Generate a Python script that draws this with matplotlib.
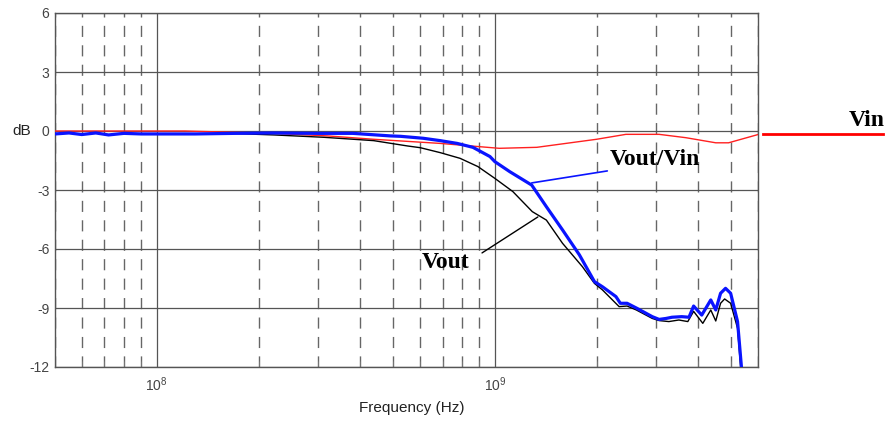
import numpy as np
import matplotlib
matplotlib.use("Agg")
import matplotlib.pyplot as plt
from matplotlib.ticker import LogLocator, NullFormatter, FixedLocator
from matplotlib.lines import Line2D

plt.rcParams["mathtext.fontset"] = "custom"
plt.rcParams["mathtext.rm"] = "Liberation Sans"
plt.rcParams["mathtext.it"] = "Liberation Sans:italic"
plt.rcParams["mathtext.bf"] = "Liberation Sans:bold"
plt.rcParams["axes.unicode_minus"] = False

# ---- data (frequency in Hz, magnitude in dB) ----
vin_f = [5e7, 1.21e8, 2.22e8, 3.2e8, 4.37e8, 6.88e8, 1.03e9, 1.33e9, 2.0e9, 2.44e9,
         3.06e9, 3.67e9, 4.5e9, 4.91e9, 6.0e9]
vin_db = [0.0, 0.0, -0.12, -0.25, -0.42, -0.63, -0.88, -0.83, -0.42, -0.17,
          -0.17, -0.34, -0.6, -0.6, -0.18]

vov_f = [5e7, 5.5e7, 6e7, 6.6e7, 7.2e7, 8e7, 9e7, 1.0e8, 1.3e8, 1.7e8, 2.2e8, 3.0e8,
         3.8e8, 4.91e8, 5.26e8, 6.14e8, 6.89e8, 7.73e8, 8.61e8, 9.67e8, 1.0e9,
         1.107e9, 1.285e9, 1.42e9, 1.585e9, 1.778e9, 1.97e9, 2.08e9, 2.28e9, 2.35e9,
         2.46e9, 2.62e9, 2.92e9, 3.06e9, 3.21e9, 3.34e9, 3.57e9, 3.75e9, 3.87e9,
         4.09e9, 4.35e9, 4.50e9, 4.65e9, 4.81e9, 4.98e9, 5.22e9, 5.36e9]
vov_db = [-0.15, -0.1, -0.18, -0.1, -0.2, -0.12, -0.15, -0.15, -0.15, -0.12, -0.1, -0.12,
          -0.12, -0.25, -0.27, -0.37, -0.49, -0.63, -0.83, -1.3, -1.56,
          -2.07, -2.75, -3.85, -5.03, -6.3, -7.66, -7.92, -8.42, -8.76,
          -8.76, -9.0, -9.44, -9.58, -9.53, -9.47, -9.44, -9.47, -8.9,
          -9.36, -8.59, -9.1, -8.25, -8.0, -8.25, -9.69, -12.0]

vout_f = [5e7, 5.5e7, 6e7, 6.6e7, 7.2e7, 8e7, 9e7, 1.0e8, 1.3e8, 1.7e8, 2.22e8, 3.12e8,
          4.38e8, 5.51e8, 6.02e8, 6.89e8, 7.89e8, 8.91e8, 1.0e9, 1.13e9, 1.29e9,
          1.42e9, 1.585e9, 1.815e9, 1.97e9, 2.08e9, 2.33e9, 2.46e9, 2.62e9, 2.92e9,
          3.06e9, 3.27e9, 3.50e9, 3.72e9, 3.87e9, 4.12e9, 4.35e9, 4.50e9, 4.65e9,
          4.78e9, 4.98e9, 5.22e9, 5.33e9]
vout_db = [-0.15, -0.1, -0.18, -0.1, -0.2, -0.12, -0.15, -0.15, -0.15, -0.13, -0.2, -0.32,
           -0.49, -0.76, -0.85, -1.1, -1.39, -1.81, -2.41, -3.08, -4.1,
           -4.53, -5.71, -6.9, -7.75, -8.08, -8.93, -8.9, -9.1, -9.53,
           -9.64, -9.69, -9.61, -9.69, -9.17, -9.78, -9.1, -9.66, -8.76,
           -8.54, -8.76, -10.03, -12.0]

yticks = [6, 3, 0, -3, -6, -9, -12]

sans = ["Liberation Sans", "DejaVu Sans"]
serif = ["Liberation Serif", "DejaVu Serif"]

fig = plt.figure(figsize=(8.91, 4.24), dpi=100)
ax = fig.add_axes([55/891, (424-367)/424, 703/891, 354/424])

ax.set_xscale("log")
ax.set_xlim(5e7, 6e9)
ax.set_ylim(-12, 6)

# grid
ax.yaxis.set_major_locator(FixedLocator(yticks))
ax.xaxis.set_major_locator(LogLocator(base=10, numticks=10))
ax.xaxis.set_minor_locator(LogLocator(base=10, subs=np.arange(2, 10), numticks=20))
ax.xaxis.set_minor_formatter(NullFormatter())
ax.grid(True, which="major", axis="both", color="#555555", linestyle="-", linewidth=0.9)
ax.grid(True, which="minor", axis="x", color="#666666", linestyle=(0, (8, 6)), linewidth=1.0)
ax.set_axisbelow(True)

for s in ax.spines.values():
    s.set_color("#555555")
    s.set_linewidth(1.0)

ax.tick_params(axis="both", which="both", direction="in", length=0, colors="#444444",
               labelsize=10)
ax.tick_params(axis="x", which="minor", length=4, color="#777777", direction="in")
ax.tick_params(axis="x", which="major", pad=6)
ax.tick_params(axis="y", pad=4)
for lab in ax.get_xticklabels() + ax.get_yticklabels():
    lab.set_family(sans)

# curves
ax.plot(vin_f, vin_db, color="#ff2020", lw=1.0, zorder=3)
ax.plot(vout_f, vout_db, color="black", lw=1.0, zorder=4)
ax.plot(vov_f, vov_db, color="#0a14ff", lw=2.3, zorder=5)

# annotations
ax.text(2.98e9, -1.47, "Vout/Vin", fontsize=17, fontweight="bold", family=serif,
        ha="center", va="center", zorder=6)
ax.annotate("", xy=(1.285e9, -2.64), xytext=(2.15e9, -2.03),
            arrowprops=dict(arrowstyle="-", color="#0a14ff", lw=1.2,
                            shrinkA=0, shrinkB=0))
ax.text(7.13e8, -6.71, "Vout", fontsize=17, fontweight="bold", family=serif,
        ha="center", va="center", zorder=6)
ax.annotate("", xy=(1.34e9, -4.37), xytext=(9.16e8, -6.2),
            arrowprops=dict(arrowstyle="-", color="black", lw=1.0,
                            shrinkA=0, shrinkB=0))
fig.text(885/891, 1 - 120/424, "Vin", fontsize=17, fontweight="bold", family=serif,
         ha="right", va="center")
fig.add_artist(Line2D([763/891, 883/891], [1 - 134/424, 1 - 134/424],
                      color="#ff0000", lw=2.0))

# labels
fig.text(22/891, 1 - 131/424, "dB", fontsize=11, color="#222222", ha="center",
         va="center", family=sans)
fig.text(412/891, 1 - 408/424, "Frequency (Hz)", fontsize=11, color="#222222",
         ha="center", va="center", family=sans)

fig.savefig("out.png", dpi=100)
